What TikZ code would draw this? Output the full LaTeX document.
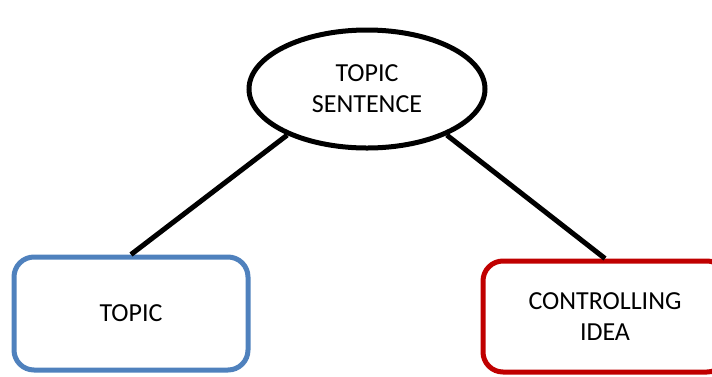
\documentclass[tikz,border=0pt]{standalone}
\usepackage{fontspec}
\setmainfont{Carlito}
\usetikzlibrary{shapes.geometric}
\definecolor{topicblue}{RGB}{79,129,189}
\definecolor{ideared}{RGB}{192,0,0}
\begin{document}
\begin{tikzpicture}[x=1pt,y=-1pt,
    every node/.style={font=\fontsize{26}{31}\selectfont,align=center},
    part/.style={draw,line width=5pt,rounded corners=20pt},
    link/.style={draw,line width=5pt}]
\useasboundingbox (0,0) rectangle (712,376);

%main idea
\node[draw,ellipse,line width=5pt,minimum width=236pt,minimum height=118pt] at (367,89)(sent){TOPIC\\SENTENCE};

%parts
\node[part,topicblue,text=black,minimum width=234pt,minimum height=113pt] at (131,313.5)(topic){TOPIC};
\node[part,ideared,text=black,minimum width=244pt,minimum height=111pt] at (605,316.5)(ctrl){CONTROLLING\\IDEA};

\path[link] (sent.210) -- (topic.north);
\path[link] (sent.330) -- (ctrl.north);

\end{tikzpicture}
\end{document}
